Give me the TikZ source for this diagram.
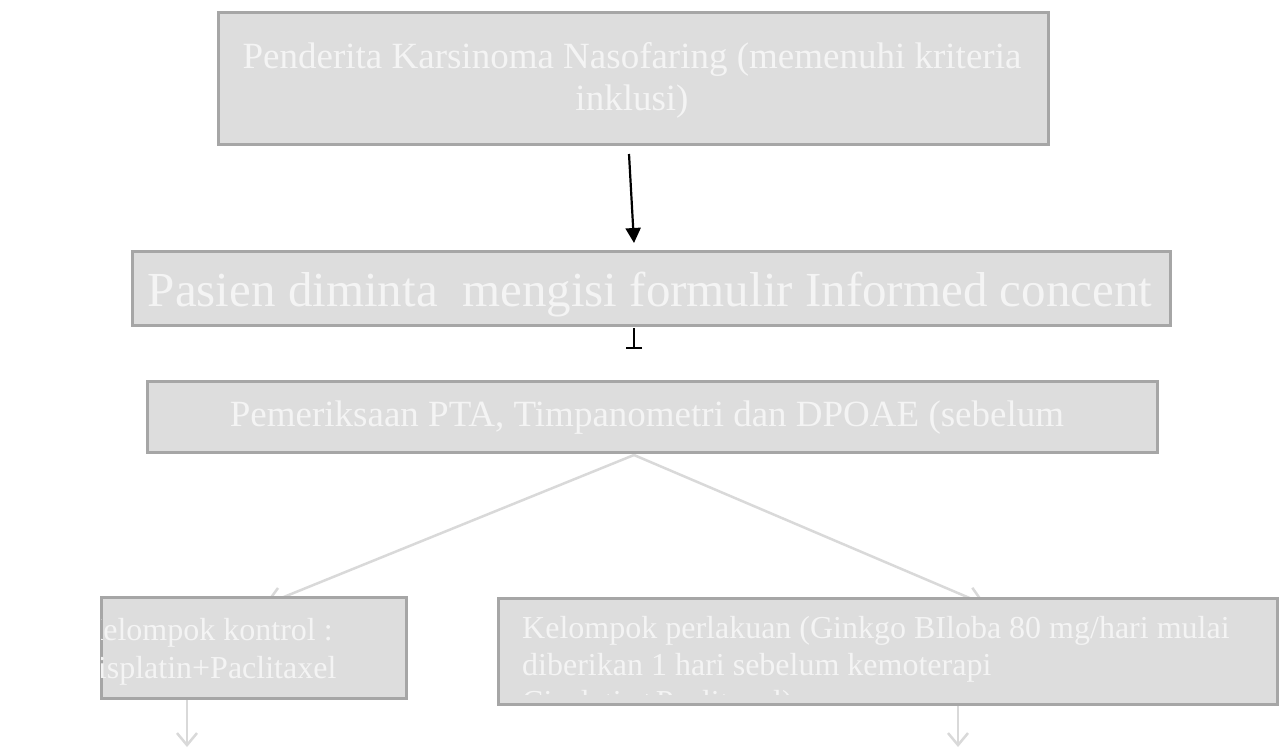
\documentclass[tikz,border=0pt]{standalone}
\usepackage{fontspec}
\setmainfont{Liberation Serif}
\usetikzlibrary{arrows.meta,calc}
\pgfdeclarelayer{back}
\pgfdeclarelayer{bg}
\pgfsetlayers{back,bg,main}
\definecolor{boxfill}{HTML}{DDDDDD}
\definecolor{boxline}{HTML}{A6A6A6}
\definecolor{txtcol}{HTML}{F4F4F4}
\definecolor{conn}{HTML}{D9D9D9}
\tikzset{
  box/.style={draw=boxline, fill=boxfill, line width=2.5pt, inner sep=0pt, anchor=north west},
  txt/.style={text=txtcol, inner sep=0pt, anchor=base},
  txtl/.style={text=txtcol, inner sep=0pt, anchor=base west},
  blk/.style={draw=black, line width=2.2pt},
  grayconn/.style={draw=conn, line width=2.5pt, -{Straight Barb[length=17pt,width=21pt,line width=2.5pt]}},
  grayshort/.style={draw=conn, line width=2.5pt, -{Straight Barb[length=12pt,width=20pt,line width=2.5pt]}},
}
\begin{document}
\begin{tikzpicture}[x=1pt,y=-1pt]
\begin{pgfonlayer}{back}
\fill[white] (0,0) rectangle (1284,748);
\end{pgfonlayer}
\useasboundingbox (0,0) rectangle (1284,748);
% boxes
\node[box, minimum width=830, minimum height=132] (b1) at (217,11) {};
\node[box, minimum width=1038, minimum height=74] (b2) at (131,250) {};
\node[box, minimum width=1010, minimum height=71] (b3) at (146,380) {};
\node[box, minimum width=305, minimum height=101] (b4) at (100,596) {};
\node[box, minimum width=779, minimum height=106] (b5) at (497,597) {};
% texts
\node[txt, font=\fontsize{37}{42}\selectfont] (t1a) at (632,68) {Penderita Karsinoma Nasofaring (memenuhi kriteria};
\node[txt, font=\fontsize{37}{42}\selectfont] (t1b) at (632,110) {inklusi)};
\node[txt, font=\fontsize{49}{56}\selectfont] (t2) at (650,306) {Pasien diminta\ \ mengisi formulir Informed concent};
\node[txt, font=\fontsize{37}{42}\selectfont] (t3) at (647,426) {Pemeriksaan PTA, Timpanometri dan DPOAE (sebelum};
\begin{scope}
\clip (101.5,597.5) rectangle (403.5,695.5);
\node[txt, font=\fontsize{32}{37}\selectfont] (t4a) at (206.5,640) {Kelompok kontrol :};
\node[txt, font=\fontsize{32}{37}\selectfont] (t4b) at (206.5,678) {Cisplatin+Paclitaxel};
\end{scope}
\begin{scope}
\clip (498.5,598.5) rectangle (1274.5,694);
\node[txtl, font=\fontsize{32}{37}\selectfont] (t5a) at (522,638) {Kelompok perlakuan (Ginkgo BIloba 80 mg/hari mulai};
\node[txtl, font=\fontsize{32}{37}\selectfont] (t5b) at (522,675) {diberikan 1 hari sebelum kemoterapi};
\node[txtl, font=\fontsize{32}{37}\selectfont] (t5c) at (522,712) {Cisplatin+Paclitaxel)};
\end{scope}
% connector end points
\coordinate (a1s) at (629,154);
\coordinate (a1e) at (634,243);
\coordinate (a2s) at (634,328);
\coordinate (a2e) at (634,349);
\coordinate (fork) at (634,455);
\coordinate (leftend) at (264,605);
\coordinate (rightend) at (986,605);
\coordinate (d4) at (187,747);
\coordinate (d5) at (958,747);
% black connectors
\draw[blk, -{Triangle[length=15pt,width=15pt]}] (a1s) -- (a1e);
\draw[blk, -{Bar[width=16pt,line width=2.2pt]}] (a2s) -- (a2e);
% gray connectors behind boxes
\begin{pgfonlayer}{bg}
\draw[grayconn] (fork) -- (leftend);
\draw[grayconn] (fork) -- (rightend);
\draw[grayshort] (b4.south west -| d4) -- (d4);
\draw[grayshort] (b5.south west -| d5) -- (d5);
\end{pgfonlayer}
\end{tikzpicture}
\end{document}
